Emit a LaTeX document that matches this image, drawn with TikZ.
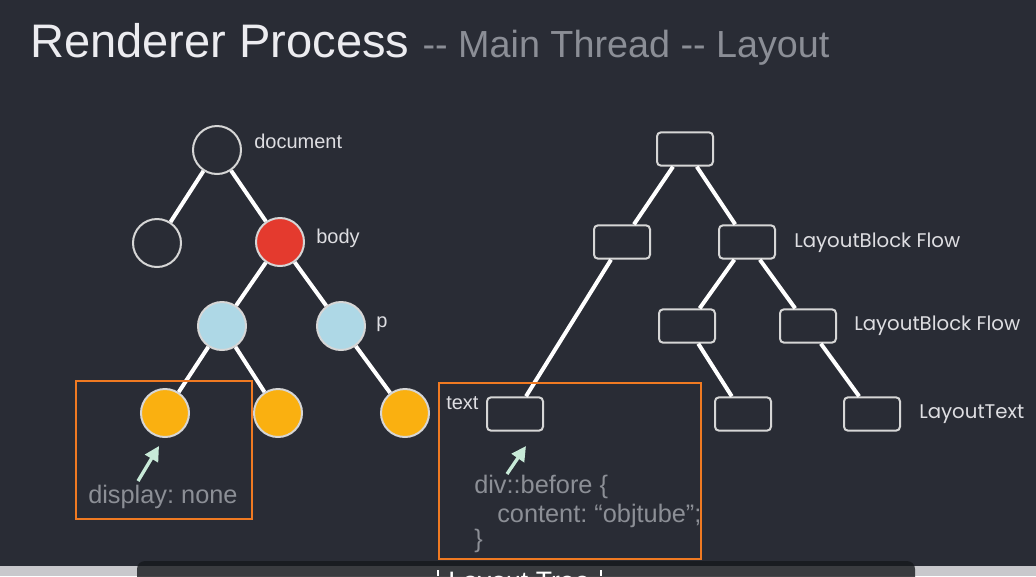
\documentclass[tikz,border=0pt]{standalone}
\usepackage{fontspec}
\setmainfont{Liberation Sans}
\newfontfamily\gothicfont{Poppins}
\usetikzlibrary{arrows.meta}
\frenchspacing

\definecolor{slidebg}{RGB}{41,44,53}
\definecolor{titlewhite}{RGB}{236,236,240}
\definecolor{titlegray}{RGB}{139,142,150}
\definecolor{outlinegray}{RGB}{214,214,214}
\definecolor{bodyred}{RGB}{228,58,46}
\definecolor{pblue}{RGB}{174,216,230}
\definecolor{leafamber}{RGB}{250,176,16}
\definecolor{frameorange}{RGB}{240,122,34}
\definecolor{arrowmint}{RGB}{200,234,216}
\definecolor{labelgray}{RGB}{222,222,226}
\definecolor{codegray}{RGB}{140,143,150}
\definecolor{stripdark}{RGB}{22,24,28}
\definecolor{stripline}{RGB}{200,200,204}

\tikzset{
  domnode/.style={circle, draw=outlinegray, line width=1.5pt,
    minimum size=36pt, inner sep=0pt, fill=slidebg},
  laynode/.style={rectangle, rounded corners=3pt, draw=outlinegray,
    line width=1.5pt, minimum width=42pt, minimum height=25pt,
    inner sep=0pt, fill=slidebg},
  treeline/.style={white, line width=3pt},
  domlabel/.style={anchor=west, inner sep=0pt, text=labelgray,
    font=\fontsize{15pt}{18pt}\selectfont},
  laylabel/.style={anchor=west, inner sep=0pt, text=labelgray,
    font=\gothicfont\fontsize{14.8pt}{17pt}\selectfont},
  codetext/.style={anchor=west, inner sep=0pt, text=codegray,
    font=\fontsize{19pt}{22pt}\selectfont},
  frame/.style={frameorange, line width=1.5pt},
  pointer/.style={arrowmint, line width=2.5pt,
    -{Triangle[length=11pt,width=11pt]}},
}

\begin{document}
\begin{tikzpicture}[x=0.75pt, y=-0.75pt]

% --- slide background ---
\fill[slidebg] (0,0) rectangle (1036,576);
\useasboundingbox (0,0) rectangle (1036,576);
\clip (0,0) rectangle (1036,576);

% --- title ---
\node[anchor=base west, inner sep=0pt] (title) at (30,57)
  {\fontsize{35.3pt}{40pt}\selectfont\color{titlewhite}Renderer Process\
   \fontsize{28.3pt}{32pt}\selectfont\color{titlegray}-{}- Main Thread -{}- Layout};

% ============================================================
% DOM tree (left)
% ============================================================
\node[domnode] (doc)    at (217,150) {};
\node[domnode] (docl)   at (157,243) {};
\node[domnode, fill=bodyred] (body) at (280,242) {};
\node[domnode, fill=pblue] (divl) at (222,326) {};
\node[domnode, fill=pblue] (para) at (341,326) {};
\node[domnode, fill=leafamber] (hid)  at (165,413) {};
\node[domnode, fill=leafamber] (leafm) at (278,413) {};
\node[domnode, fill=leafamber] (leafr) at (405,413) {};

\draw[treeline] (doc) -- (docl);
\draw[treeline] (doc) -- (body);
\draw[treeline] (body) -- (divl);
\draw[treeline] (body) -- (para);
\draw[treeline] (divl) -- (hid);
\draw[treeline] (divl) -- (leafm);
\draw[treeline] (para) -- (leafr);

\node[domlabel] (doclbl)  at (254,141) {document};
\node[domlabel] (bodylbl) at (316,238) {body};
\node[domlabel] (plbl)    at (376,324) {p};

% display: none frame
\draw[frame] (76,381) rectangle (252,519);
\coordinate (hidtail) at (138,481);
\coordinate (hidtip)  at (159,446);
\draw[pointer] (hidtail) -- (hidtip);
\node[codetext] (hidtxt) at (88,497) {display: none};

% ============================================================
% Layout tree (right)
% ============================================================
\node[laynode] (root)  at (685,149) {};
\node[laynode] (blkl)  at (622,242) {};
\node[laynode] (blkr)  at (747,242) {};
\node[laynode] (blkrl) at (687,326) {};
\node[laynode] (blkrr) at (808,326) {};
\node[laynode] (txtb)  at (515,414) {};
\node[laynode] (txtm)  at (743,414) {};
\node[laynode] (txtr)  at (872,414) {};

\draw[treeline] (root) -- (blkl);
\draw[treeline] (root) -- (blkr);
\draw[treeline] (blkl) -- (txtb);
\draw[treeline] (blkr) -- (blkrl);
\draw[treeline] (blkr) -- (blkrr);
\draw[treeline] (blkrl) -- (txtm);
\draw[treeline] (blkrr) -- (txtr);

\node[laylabel] (flowa) at (794,243) {LayoutBlock Flow};
\node[laylabel] (flowb) at (854,326) {LayoutBlock Flow};
\node[laylabel] (ltext) at (919,414) {LayoutText};
\node[domlabel] (textlbl) at (446,403) {text};

% pseudo element frame
\draw[frame] (439,383) rectangle (701,559);
\coordinate (psetail) at (507,474);
\coordinate (psetip)  at (526,446);
\draw[pointer] (psetail) -- (psetip);
\node[codetext] (codea) at (474,487) {div::before \{};
\node[codetext] (codeb) at (497,516) {content: “objtube”;};
\node[codetext] (codec) at (474,541) {\}};

% ============================================================
% caption strip (cut off at the bottom)
% ============================================================
\fill[stripline] (0,566) rectangle (1036,576);
\fill[stripdark, opacity=0.8, rounded corners=6pt] (137,561) rectangle (915,600);
\fill[white] (437,570) rectangle (439,576);
\fill[white] (600,570) rectangle (602,576);
\node[anchor=north, inner sep=0pt, text=white,
      font=\fontsize{20pt}{24pt}\selectfont] (caption) at (519,572) {Layout Tree};

\end{tikzpicture}
\end{document}
